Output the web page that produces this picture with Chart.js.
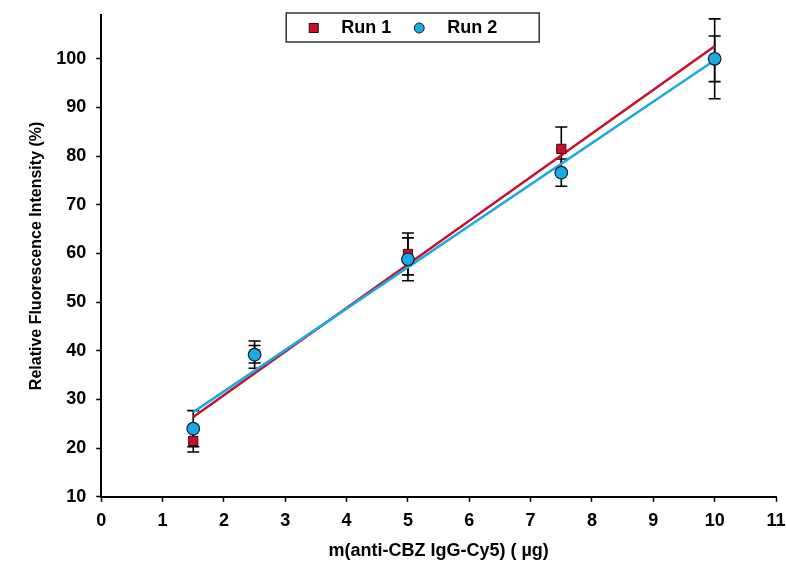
<!DOCTYPE html>
<html>
<head>
<meta charset="utf-8">
<script src="https://cdn.jsdelivr.net/npm/chart.js@4"></script>
<style>
  body { margin: 0; background: #fff; }
  #wrap { width: 786px; height: 562px; }
</style>
</head>
<body>
<div id="wrap"><canvas id="myChart" width="786" height="562"></canvas></div>
<script>
// data
const xValues = [1.5, 2.5, 5, 7.5, 10];
const run1 = [21.5, 39.3, 59.9, 81.5, 100.0];
const run1Err = [2.3, 1.8, 4.3, 4.5, 4.7];
const run2 = [24.0, 39.2, 58.8, 76.6, 100.0];
const run2Err = [3.7, 2.8, 4.4, 2.8, 8.2];
// fitted lines (end points)
const fitX = [1.5, 10];
const fit1 = [26.4, 102.6];
const fit2 = [27.4, 99.7];
const yTicks = [10, 20, 30, 40, 50, 60, 70, 80, 90, 100];
const seriesNames = ['Run 1', 'Run 2'];

const red = '#c8102e';
const blue = '#1aa9e0';
const font = 'Liberation Sans';

const toPts = (xs, ys) => xs.map((x, i) => ({ x: x, y: ys[i] }));

// error bars drawn behind the markers
const errorBars = {
    id: 'errorBars',
    beforeDatasetsDraw(chart) {
        const ctx = chart.ctx;
        const xs = chart.scales.x, ys = chart.scales.y;
        ctx.save();
        ctx.strokeStyle = '#000';
        ctx.lineWidth = 1.6;
        chart.data.datasets.forEach((ds) => {
            if (!ds.errors) return;
            ds.data.forEach((p, i) => {
                const px = xs.getPixelForValue(p.x);
                const top = ys.getPixelForValue(p.y + ds.errors[i]);
                const bot = ys.getPixelForValue(p.y - ds.errors[i]);
                ctx.beginPath();
                ctx.moveTo(px, top); ctx.lineTo(px, bot);
                ctx.moveTo(px - 6, top); ctx.lineTo(px + 6, top);
                ctx.moveTo(px - 6, bot); ctx.lineTo(px + 6, bot);
                ctx.stroke();
            });
        });
        ctx.restore();
    }
};

// boxed legend inside the plot, as in the original figure
const boxLegend = {
    id: 'boxLegend',
    afterDraw(chart) {
        const ctx = chart.ctx;
        const a = chart.chartArea;
        const left = a.left + 185, top = 13, w = 253, h = 29;
        const cy = top + h / 2 + 0.5;
        ctx.save();
        ctx.fillStyle = '#fff';
        ctx.fillRect(left, top, w, h);
        ctx.strokeStyle = '#333';
        ctx.lineWidth = 1.5;
        ctx.strokeRect(left, top, w, h);

        // Run 1 marker
        ctx.fillStyle = red;
        ctx.strokeStyle = '#3a0a0a';
        ctx.lineWidth = 1;
        ctx.fillRect(left + 23, cy - 4.5, 9, 9);
        ctx.strokeRect(left + 23, cy - 4.5, 9, 9);
        // Run 2 marker
        ctx.beginPath();
        ctx.arc(left + 133, cy, 5, 0, Math.PI * 2);
        ctx.fillStyle = blue;
        ctx.fill();
        ctx.strokeStyle = '#102030';
        ctx.stroke();

        ctx.fillStyle = '#000';
        ctx.font = 'bold 18px "' + font + '"';
        ctx.textBaseline = 'middle';
        ctx.fillText(seriesNames[0], left + 55, cy);
        ctx.fillText(seriesNames[1], left + 161, cy);
        ctx.restore();
    }
};

const ctx = document.getElementById('myChart').getContext('2d');
const chart = new Chart(ctx, {
    type: 'scatter',
    data: {
        datasets: [
            {
                label: 'Run 1 fit',
                type: 'line',
                data: toPts(fitX, fit1),
                borderColor: red,
                borderWidth: 2.5,
                pointRadius: 0,
                fill: false,
                order: 3
            },
            {
                label: 'Run 2 fit',
                type: 'line',
                data: toPts(fitX, fit2),
                borderColor: blue,
                borderWidth: 2.5,
                pointRadius: 0,
                fill: false,
                order: 2
            },
            {
                label: seriesNames[0],
                data: toPts(xValues, run1),
                errors: run1Err,
                pointStyle: 'rect',
                pointRadius: 6.5,
                backgroundColor: red,
                borderColor: '#3a0a0a',
                borderWidth: 1,
                order: 1
            },
            {
                label: seriesNames[1],
                data: toPts(xValues, run2),
                errors: run2Err,
                pointStyle: 'circle',
                pointRadius: 6.3,
                backgroundColor: blue,
                borderColor: '#102030',
                borderWidth: 1.2,
                order: 0
            }
        ]
    },
    options: {
        responsive: false,
        animation: false,
        layout: { padding: { left: 27, right: 0, top: 15, bottom: 0 } },
        plugins: {
            tooltip: { enabled: false },
            legend: { display: false }
        },
        scales: {
            x: {
                type: 'linear',
                min: 0,
                max: 11,
                afterFit: (s) => { s.paddingRight = 10; },
                ticks: {
                    stepSize: 1,
                    color: '#000',
                    padding: 8,
                    maxRotation: 0,
                    font: { family: font, size: 18, weight: 'bold' }
                },
                grid: { drawOnChartArea: false, color: '#000', tickLength: 5, tickWidth: 1.5 },
                border: { color: '#000', width: 2 },
                title: {
                    display: true,
                    text: 'm(anti-CBZ IgG-Cy5) ( \u00b5g)',
                    color: '#000',
                    padding: { top: 1, bottom: 0 },
                    font: { family: font, size: 18, weight: 'bold' }
                }
            },
            y: {
                min: 10,
                max: 109,
                afterBuildTicks: (axis) => { axis.ticks = yTicks.map((v) => ({ value: v })); },
                afterFit: (s) => { s.paddingTop = 0; },
                ticks: {
                    color: '#000',
                    padding: 10,
                    font: { family: font, size: 18, weight: 'bold' }
                },
                grid: { drawOnChartArea: false, color: '#000', tickLength: 5, tickWidth: 1.5 },
                border: { color: '#000', width: 2 },
                title: {
                    display: true,
                    text: 'Relative Fluorescence Intensity (%)',
                    color: '#000',
                    padding: { top: 0, bottom: 0 },
                    font: { family: font, size: 16, weight: 'bold' }
                }
            }
        }
    },
    plugins: [errorBars, boxLegend]
});
</script>
</body>
</html>
